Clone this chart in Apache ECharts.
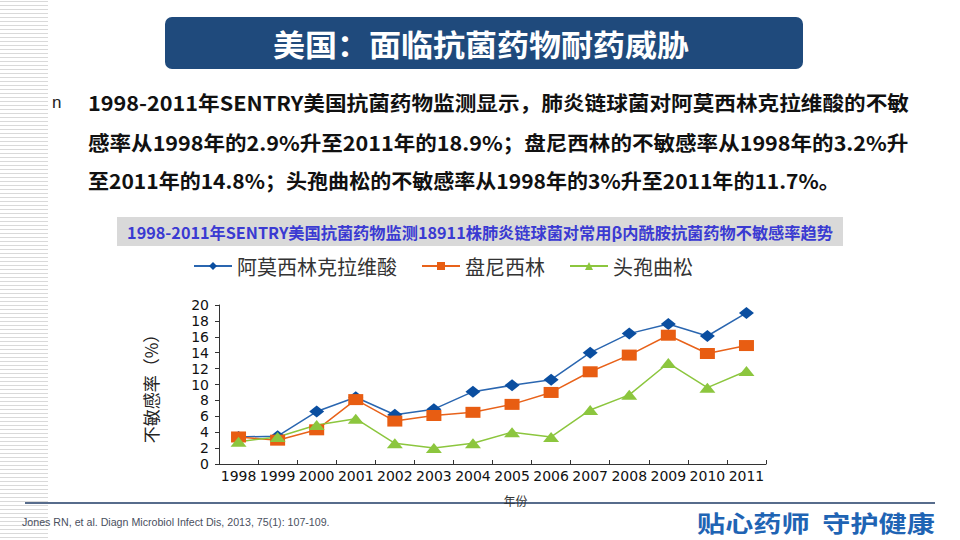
<!DOCTYPE html>
<html><head><meta charset="utf-8">
<script src="https://cdn.jsdelivr.net/npm/echarts@6/dist/echarts.min.js"></script>
<style>html,body{margin:0;padding:0;background:#fff}#c{width:960px;height:540px}</style>
</head><body><div id="c"></div>
<script>
var years = ['1998','1999','2000','2001','2002','2003','2004','2005','2006','2007','2008','2009','2010','2011'];
var amoxClav = [3.4, 3.5, 6.6, 8.4, 6.2, 6.9, 9.1, 9.9, 10.6, 14.0, 16.4, 17.6, 16.1, 19.0];
var penicillin = [3.4, 3.0, 4.3, 8.1, 5.4, 6.1, 6.5, 7.5, 9.0, 11.6, 13.7, 16.2, 13.9, 14.9];
var ceftriaxone = [2.8, 3.4, 4.9, 5.7, 2.6, 2.0, 2.6, 4.0, 3.4, 6.8, 8.7, 12.7, 9.6, 11.7];
var seriesNames = ['阿莫西林克拉维酸', '盘尼西林', '头孢曲松'];
var yTicks = {min: 0, max: 20, interval: 2};

var titleText = '美国：面临抗菌药物耐药威胁';
var paraLines = [
  '1998-2011年SENTRY美国抗菌药物监测显示，肺炎链球菌对阿莫西林克拉维酸的不敏',
  '感率从1998年的2.9%升至2011年的18.9%；盘尼西林的不敏感率从1998年的3.2%升',
  '至2011年的14.8%；头孢曲松的不敏感率从1998年的3%升至2011年的11.7%。'
];
var chartTitle = '1998-2011年SENTRY美国抗菌药物监测18911株肺炎链球菌对常用β内酰胺抗菌药物不敏感率趋势';
var citation = 'Jones RN, et al. Diagn Microbiol Infect Dis, 2013, 75(1): 107-109.';
var slogan = '贴心药师  守护健康';

var mctx = document.createElement('canvas').getContext('2d');
function fitScale(text, font, target) {
  mctx.font = font;
  var w = mctx.measureText(text).width;
  return w > 0 ? target / w : 1;
}
function fitText(text, x, y, size, weight, family, fill, target, align) {
  var font = weight + ' ' + size + 'px ' + family;
  return {
    type: 'text', x: x, y: y, scaleX: fitScale(text, font, target), silent: true,
    style: {text: text, x: 0, y: 0, font: font, fill: fill, textAlign: align || 'left', textVerticalAlign: 'middle'}
  };
}

var CJK = '"Noto Sans CJK SC", sans-serif';
var graphics = [];
// left striped band
for (var yy = 1; yy < 540; yy += 4) {
  graphics.push({type: 'line', silent: true, shape: {x1: 0, y1: yy + 0.5, x2: 48, y2: yy + 0.5}, style: {stroke: '#d9d9d9', lineWidth: 1}});
}
graphics.push({type: 'rect', silent: true, shape: {x: 165, y: 17, width: 638, height: 52, r: 7}, style: {fill: '#1f4a7c'}});
graphics.push(fitText(titleText, 481, 43, 30, 'bold', CJK, '#ffffff', 416, 'center'));
graphics.push({type: 'text', x: 52, y: 102, silent: true, style: {text: 'n', x: 0, y: 0, font: '17px "Liberation Sans", sans-serif', fill: '#222', textVerticalAlign: 'middle'}});
graphics.push(fitText(paraLines[0], 88, 102, 20, 'bold', CJK, '#111', 821));
graphics.push(fitText(paraLines[1], 88, 142, 20, 'bold', CJK, '#111', 821));
graphics.push(fitText(paraLines[2], 88, 180, 20, 'bold', CJK, '#111', 752));
graphics.push({type: 'rect', silent: true, shape: {x: 117, y: 217, width: 726, height: 29}, style: {fill: '#d9d9d9'}});
graphics.push(fitText(chartTitle, 480, 232, 16, 'bold', CJK, '#3a3ad2', 706, 'center'));
graphics.push({type: 'line', silent: true, shape: {x1: 25, y1: 503, x2: 935, y2: 503}, style: {stroke: '#1f3b66', lineWidth: 1.5}});
graphics.push(fitText(citation, 22, 522, 10.5, 'normal', '"Liberation Sans", sans-serif', '#4a5060', 308));
graphics.push(fitText(slogan, 697, 522, 23, 'bold', CJK, '#1f64b4', 238));

var chart = echarts.init(document.getElementById('c'), null, {renderer: 'svg'});
chart.setOption({
  animation: false,
  backgroundColor: '#fff',
  graphic: graphics,
  legend: {
    left: 188, top: 251, itemWidth: 38, itemHeight: 10, itemGap: 24,
    textStyle: {fontFamily: CJK, fontSize: 20, color: '#333'},
    data: seriesNames
  },
  grid: {left: 219, right: 194, top: 305, bottom: 76},
  xAxis: {
    type: 'category', data: years, boundaryGap: true,
    name: '年份', nameLocation: 'middle', nameGap: 30,
    nameTextStyle: {fontFamily: CJK, fontSize: 12, color: '#333', padding: [0, 0, 0, 46]},
    axisLine: {lineStyle: {color: '#333', width: 1}},
    axisTick: {show: true, inside: true, length: 4, lineStyle: {color: '#333'}},
    axisLabel: {interval: 0, margin: 5, fontFamily: '"DejaVu Sans", sans-serif', fontSize: 14, color: '#111'}
  },
  yAxis: {
    type: 'value', min: yTicks.min, max: yTicks.max, interval: yTicks.interval,
    name: '不敏感率（%）', nameLocation: 'middle', nameGap: 60,
    nameTextStyle: {fontFamily: CJK, fontSize: 17, color: '#222'},
    axisLine: {show: true, lineStyle: {color: '#333', width: 1}},
    axisTick: {show: true, length: 4, lineStyle: {color: '#333'}},
    splitLine: {show: false},
    axisLabel: {margin: 10, fontFamily: '"DejaVu Sans", sans-serif', fontSize: 14, color: '#111'}
  },
  series: [
    {name: seriesNames[0], type: 'line', data: amoxClav, symbol: 'diamond', symbolSize: [15, 12],
      lineStyle: {color: '#2a66b0', width: 1.5}, itemStyle: {color: '#0a4ea0'}},
    {name: seriesNames[1], type: 'line', data: penicillin, symbol: 'rect', symbolSize: [15, 11],
      lineStyle: {color: '#e8621a', width: 1.5}, itemStyle: {color: '#e85d12'}},
    {name: seriesNames[2], type: 'line', data: ceftriaxone, symbol: 'triangle', symbolSize: [16, 10],
      lineStyle: {color: '#8cc63e', width: 1.5}, itemStyle: {color: '#8cc63e'}}
  ]
});
</script></body></html>
